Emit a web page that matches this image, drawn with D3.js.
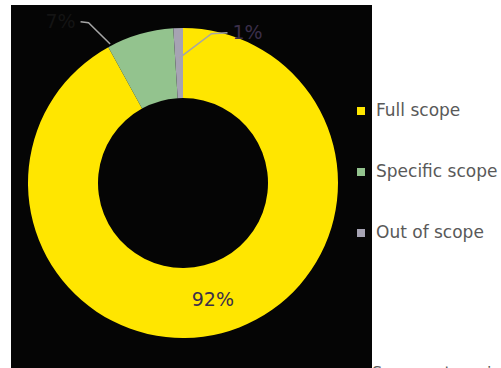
<!DOCTYPE html>
<html>
<head>
<meta charset="utf-8">
<script src="https://cdn.jsdelivr.net/npm/d3@7"></script>
<style>
  body { margin: 0; background: #fff; }
  svg { display: block; }
</style>
</head>
<body>
<script>
var width = 501, height = 368;

// scope categories and their share
var categories = ["Full scope", "Specific scope", "Out of scope"];
var shares = [92, 7, 1];
var labels = ["92%", "7%", "1%"];
var colors = ["#ffe600", "#93c38e", "#a6a3b3"];

var svg = d3.select("body")
            .append("svg")
            .attr("width", width)
            .attr("height", height)
            .style("font-family", "'DejaVu Sans', sans-serif");

// black plot panel
svg.append("rect")
   .attr("x", 11)
   .attr("y", 5)
   .attr("width", 361)
   .attr("height", 370)
   .attr("fill", "#050505");

var cx = 183, cy = 183, outerR = 155, innerR = 85;

var data = categories.map(function(c, i) {
  return {cat: c, value: shares[i], label: labels[i], color: colors[i]};
});

var pie = d3.pie()
            .sort(null)
            .value(function(d) { return d.value; });

var arc = d3.arc()
            .innerRadius(innerR)
            .outerRadius(outerR);

var g = svg.append("g")
           .attr("transform", "translate(" + cx + "," + cy + ")");

var arcs = pie(data);

g.selectAll("path.slice")
 .data(arcs)
 .enter()
 .append("path")
 .attr("class", "slice")
 .attr("d", arc)
 .attr("fill", function(d) { return d.data.color; });

// point on the ring at a given angle (0 = top, clockwise) and radius
var polar = function(a, r) {
  return [r * Math.sin(a), -r * Math.cos(a)];
};

// big slice gets its label inside, the small ones get leader lines
var labelColor = "#3b2f4a";

arcs.forEach(function(d, i) {
  var mid = (d.startAngle + d.endAngle) / 2;
  if (d.data.value > 20) {
    var c = arc.centroid(d);
    g.append("text")
     .attr("x", c[0])
     .attr("y", c[1])
     .attr("dy", "0.35em")
     .attr("text-anchor", "middle")
     .style("font-size", "19px")
     .attr("fill", labelColor)
     .text(d.data.label);
  } else {
    var side = i == 1 ? -1 : 1;
    var p0, p1, p2;
    if (side < 0) {
      p0 = polar(d.startAngle + 0.02, outerR + 2);
      p1 = polar(d.startAngle - 0.03, outerR + 31);
      p2 = [p1[0] - 8, p1[1] - 1];
    } else {
      p0 = polar(mid, 125);
      p1 = polar(mid + 0.22, 152);
      p2 = [p1[0] + 16, p1[1] - 1];
    }
    g.append("polyline")
     .attr("points", [p0, p1, p2].map(function(p) { return p.join(","); }).join(" "))
     .attr("fill", "none")
     .attr("stroke", "#a6a6a6")
     .attr("stroke-width", 1.5);
    g.append("text")
     .attr("x", p2[0] + side * 5)
     .attr("y", p2[1])
     .attr("dy", "0.35em")
     .attr("text-anchor", side < 0 ? "end" : "start")
     .style("font-size", "19px")
     .attr("fill", i == 1 ? "#141414" : labelColor)
     .text(d.data.label);
  }
});

// legend
var legend = svg.selectAll(".legend")
                .data(data)
                .enter()
                .append("g")
                .attr("class", "legend")
                .attr("transform", function(d, i) {
                  return "translate(357," + (107 + i * 61) + ")";
                });

legend.append("rect")
      .attr("width", 8)
      .attr("height", 8)
      .attr("fill", function(d) { return d.color; });

legend.append("text")
      .attr("x", 19)
      .attr("y", 9)
      .style("font-size", "17px")
      .attr("fill", "#595959")
      .text(function(d) { return d.cat; });

// clipped caption at the bottom edge
svg.append("text")
   .attr("x", 372)
   .attr("y", 378)
   .style("font-size", "16px")
   .attr("fill", "#595959")
   .text("Scope categories");
</script>
</body>
</html>
